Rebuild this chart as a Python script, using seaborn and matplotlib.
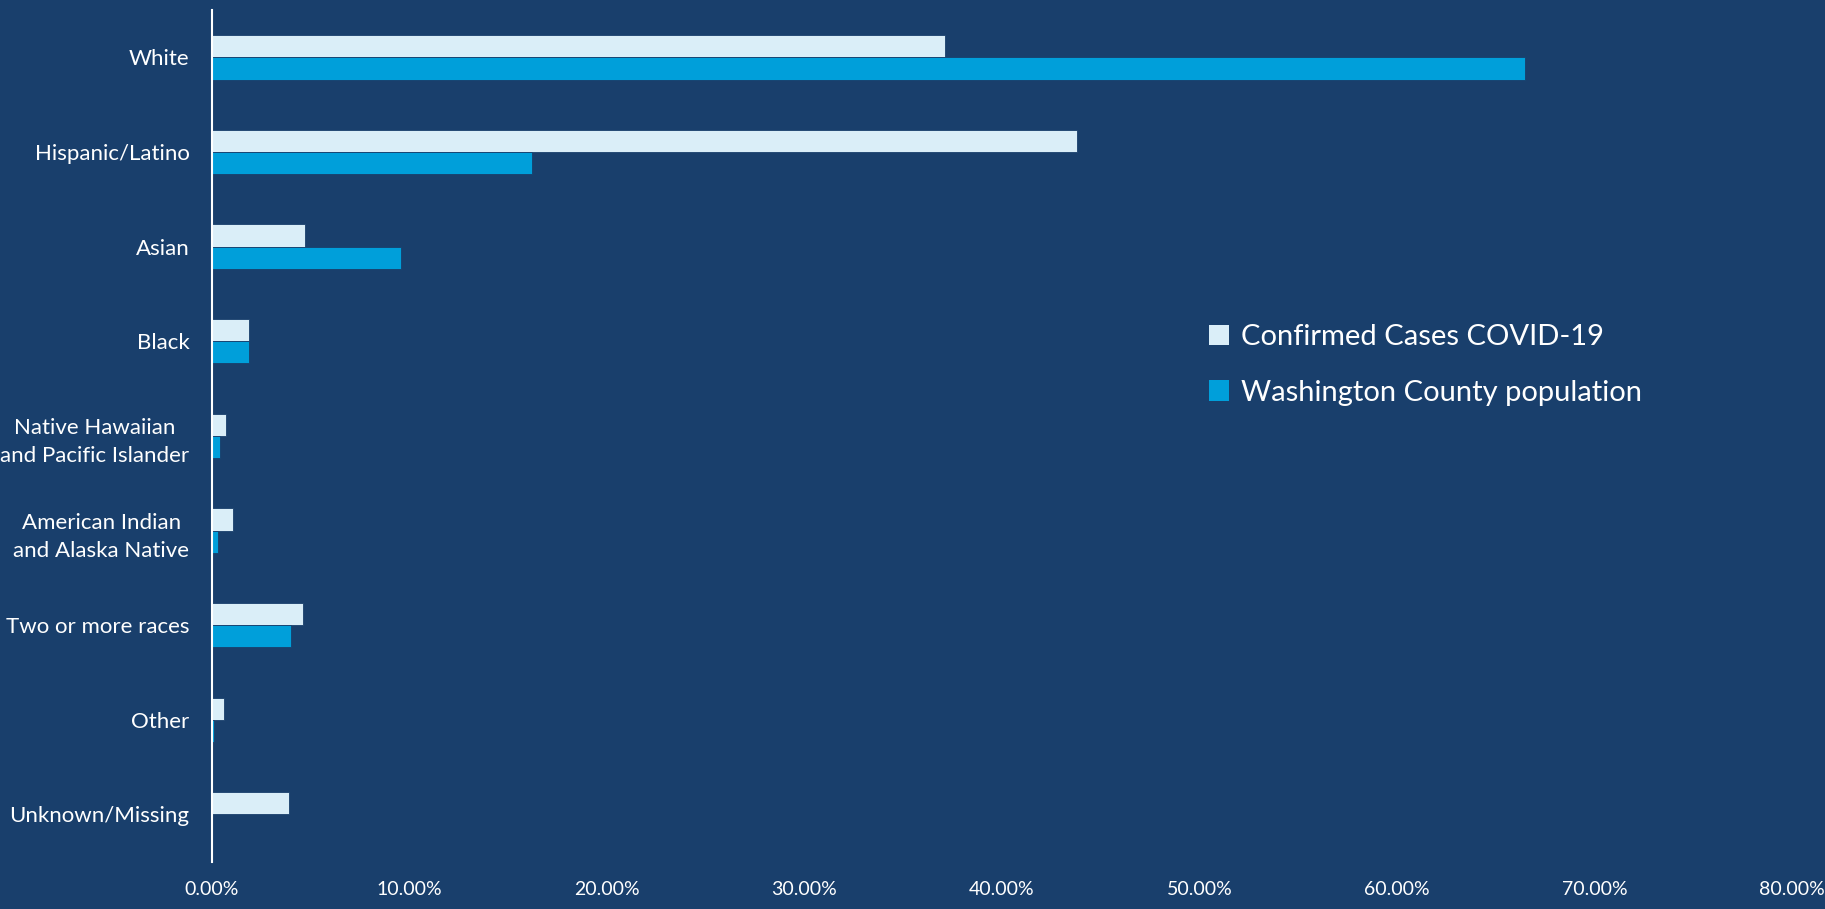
import matplotlib
matplotlib.use("Agg")
import matplotlib.pyplot as plt
import matplotlib.ticker as mticker
import pandas as pd
import seaborn as sns

# Data (percent)
groups = ["White", "Hispanic/Latino", "Asian", "Black",
          "Native Hawaiian\nand Pacific Islander",
          "American Indian\nand Alaska Native",
          "Two or more races", "Other", "Unknown/Missing"]
confirmed = [37.1, 43.8, 4.7, 1.9, 0.7, 1.1, 4.6, 0.6, 3.9]
population = [66.5, 16.2, 9.6, 1.9, 0.4, 0.3, 4.0, 0.1, 0.0]
series = ["Confirmed Cases COVID-19", "Washington County population"]

bg = "#193F6C"
colors = ["#DAEEF8", "#009FDA"]

df = pd.DataFrame({
    "group": groups * 2,
    "value": confirmed + population,
    "series": [series[0]] * len(groups) + [series[1]] * len(groups),
})

sns.set_theme(style="white")
plt.rcParams["font.family"] = ["Lato", "DejaVu Sans"]

fig = plt.figure(figsize=(18.25, 9.09), dpi=100, facecolor=bg)
ax = fig.add_axes([0.116, 0.052, 0.866, 0.937])
ax.set_facecolor(bg)

sns.barplot(data=df, x="value", y="group", hue="series", orient="h",
            palette=colors, saturation=1, width=0.47, gap=0, ax=ax,
            edgecolor=bg, linewidth=0.6)

ax.set_xlim(0, 80)
ax.xaxis.set_major_locator(mticker.MultipleLocator(10))
ax.xaxis.set_major_formatter(mticker.FuncFormatter(lambda v, p: f"{v:.2f}%"))
ax.set_xlabel("")
ax.set_ylabel("")

for s in ["top", "right", "bottom"]:
    ax.spines[s].set_visible(False)
ax.spines["left"].set_color("white")
ax.spines["left"].set_linewidth(1.5)

ax.tick_params(axis="both", length=0, colors="white", labelsize=16)
ax.tick_params(axis="y", pad=16)
ax.tick_params(axis="x", pad=14, labelsize=14)
for lbl in ax.get_yticklabels():
    lbl.set_multialignment("center")
    lbl.set_linespacing(1.5)

leg = ax.legend(loc="upper left", bbox_to_anchor=(0.648, 0.672),
                bbox_transform=fig.transFigure, frameon=False,
                fontsize=21, handlelength=0.7, handleheight=0.7,
                handletextpad=0.4, labelspacing=1.0)
for t in leg.get_texts():
    t.set_color("white")
for h in leg.legend_handles:
    h.set_edgecolor("none")

fig.savefig("out.png", dpi=100, facecolor=bg)
